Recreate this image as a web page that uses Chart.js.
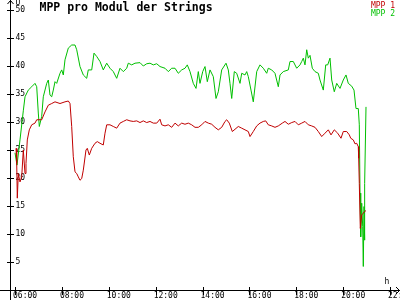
<!DOCTYPE html>
<html><head><meta charset="utf-8">
<script src="https://cdn.jsdelivr.net/npm/chart.js@4/dist/chart.umd.min.js"></script>
<style>html,body{margin:0;padding:0;background:#fff}#wrap{width:400px;height:300px}</style>
</head><body><div id="wrap"><canvas id="c" width="400" height="300"></canvas></div>
<script>
const chartTitle = 'MPP pro Modul der Strings';
const seriesNames = ['MPP 1', 'MPP 2'];
const seriesColors = ['#c00000', '#00c000'];
const yTickValues = [5,10,15,20,25,30,35,40,45,50];
const xTickHours = [6,8,10,12,14,16,18,20,22];
const yUnit = 'U';
const xUnit = 'h';

const mpp1Times = [6.043,6.073,6.098,6.141,6.213,6.286,6.354,6.427,6.469,6.525,
6.61,6.713,6.853,6.926,7.139,7.28,7.421,7.566,7.707,7.92,
8.133,8.274,8.347,8.419,8.487,8.56,8.633,8.701,8.773,8.846,
8.914,9.029,9.085,9.17,9.273,9.413,9.511,9.627,9.767,9.84,
9.913,10.053,10.194,10.339,10.48,10.621,10.766,10.907,11.047,11.193,
11.333,11.474,11.619,11.76,11.901,12.046,12.187,12.259,12.4,12.541,
12.686,12.827,12.967,13.113,13.253,13.394,13.539,13.68,13.821,13.966,
14.107,14.248,14.393,14.533,14.674,14.819,14.96,15.033,15.143,15.272,
15.387,15.527,15.673,15.813,15.954,16.027,16.167,16.313,16.453,16.594,
16.696,16.807,16.953,17.093,17.234,17.405,17.52,17.661,17.806,17.947,
18.088,18.233,18.373,18.514,18.659,18.8,18.941,19.086,19.227,19.368,
19.483,19.623,19.768,19.909,20.007,20.153,20.264,20.324,20.434,20.507,
20.579,20.647,20.664,20.69,20.733,20.793,20.848,20.976];
const mpp1Values = [25.3,22.6,16.4,20.8,19.3,20.2,25,20.8,22.6,26.8,
28.6,29.5,29.8,30.4,30.4,31.8,33,33.3,33.6,33.3,
33.6,33.75,33.3,29.2,23.8,21.1,20.8,20.2,19.6,19.9,
21.4,25,25.3,24.1,25.3,26.2,26.5,26.2,25.9,28,
29.5,29.5,29.2,28.9,29.8,30.1,30.4,30.2,30.1,30.2,
29.9,30.2,29.9,30.1,29.8,29.8,30.5,29.5,29.3,29.5,
29.05,29.8,29.3,29.8,29.6,29.8,29.5,29.05,29.05,29.5,
30.1,29.8,29.6,29.05,28.6,29.05,30.1,30.4,29.8,28.3,
28.7,29.2,28.9,28.6,28.3,27.4,28.3,29.3,29.8,30.1,
30.2,29.5,29.3,29.05,29.3,29.8,30.1,29.6,29.9,30.1,
29.5,29.8,30.1,29.5,29.3,29.05,28.3,27.4,28,28.6,
27.7,28.6,28,27.1,28.3,28.3,27.7,27.1,26.8,26.1,
26.2,25.6,23.5,19,11,13.4,13.7,14.2];

const mpp2Times = [6.00,6.085,6.213,6.354,6.427,6.567,6.713,6.853,6.926,6.994,
7.037,7.139,7.207,7.353,7.421,7.493,7.566,7.634,7.707,7.779,
7.92,7.993,8.061,8.133,8.274,8.419,8.56,8.633,8.773,8.914,
9.059,9.127,9.273,9.371,9.486,9.627,9.767,9.913,10.053,10.194,
10.339,10.48,10.621,10.766,10.834,10.979,11.12,11.333,11.474,11.619,
11.76,11.901,12.046,12.187,12.4,12.541,12.686,12.827,12.967,13.113,
13.253,13.351,13.467,13.607,13.723,13.821,13.893,14.009,14.107,14.205,
14.32,14.461,14.576,14.674,14.819,15.003,15.101,15.173,15.246,15.357,
15.459,15.6,15.673,15.813,15.886,15.954,16.069,16.167,16.313,16.453,
16.594,16.739,16.807,16.953,17.093,17.234,17.307,17.447,17.661,17.733,
17.874,18.019,18.16,18.233,18.301,18.373,18.446,18.514,18.587,18.685,
18.8,18.941,19.013,19.154,19.257,19.342,19.44,19.513,19.623,19.726,
19.867,20.007,20.123,20.221,20.366,20.464,20.549,20.647,20.69,20.72,
20.75,20.793,20.835,20.861,20.891,20.903,20.933,20.976];
const mpp2Values = [24.5,22.3,26.8,32,34.5,35.7,36.3,36.9,36.3,31.6,
29.2,31,34.5,36.9,37.5,34.8,34.5,35.7,37.2,36.9,
38.7,39.3,38.4,41.1,43.2,43.75,43.75,42.9,39.9,38.4,
37.8,39.3,39.3,42.3,41.7,40.8,39.3,40.5,39.6,39,
37.8,39.6,39,39.6,40.5,40.2,40.5,40.6,40,40.4,
40.5,40.2,40.4,39.9,39.6,39,39.6,39.6,38.7,39.3,
39.6,40.2,39,36.9,36,39,36.9,39,39.9,37.2,
39.3,38.1,34.2,35.4,39.3,40.5,39.3,36.9,34.2,39,
38.7,36.9,38.7,38.4,39,38.1,35.7,33.6,39,40.2,
39.6,38.7,39.6,39.3,38.7,36.3,38.4,39,39.3,40.8,
40.8,39.6,40.2,40.8,41.4,40.2,42.9,41.4,41.9,39.6,
39,38.7,37.5,35.7,40.2,40.2,41.4,37.5,35.4,36.9,
36,37.5,38.4,36.9,36.4,35.7,32.4,32.4,29.5,17.3,
9.5,15.5,11.3,4.2,14.9,8.9,19,32.7];

const toPoints = (ts, vs) => ts.map((t, i) => ({x: t, y: vs[i]}));
const MONO = '"DejaVu Sans Mono", "Liberation Mono", monospace';

const decor = {
  id: 'decor',
  beforeDraw(chart) {
    const ctx = chart.ctx;
    ctx.save();
    ctx.fillStyle = '#ffffff';
    ctx.fillRect(0, 0, chart.width, chart.height);
    ctx.restore();
  },
  afterDraw(chart) {
    const ctx = chart.ctx;
    const xs = chart.scales.x, ys = chart.scales.y;
    const ax = Math.round(chart.chartArea.left) + 0.5;
    const ay = Math.round(chart.chartArea.bottom) + 0.5;
    ctx.save();
    ctx.strokeStyle = '#000';
    ctx.lineWidth = 1;
    ctx.beginPath();
    ctx.moveTo(ax, 0); ctx.lineTo(ax, chart.height);
    ctx.moveTo(0, ay); ctx.lineTo(chart.width, ay);
    // arrows
    ctx.moveTo(ax - 3, 4); ctx.lineTo(ax, 0.5); ctx.lineTo(ax + 3, 4);
    ctx.moveTo(chart.width - 4, ay - 3.5); ctx.lineTo(chart.width - 0.5, ay); ctx.lineTo(chart.width - 4, ay + 3.5);
    // ticks crossing the axes
    ys.ticks.forEach(t => {
      const p = Math.round(ys.getPixelForValue(t.value)) + 0.5;
      ctx.moveTo(ax - 3.5, p); ctx.lineTo(ax + 3.5, p);
    });
    xs.ticks.forEach(t => {
      const p = Math.round(xs.getPixelForValue(t.value)) + 0.5;
      ctx.moveTo(p, ay - 3.5); ctx.lineTo(p, ay + 4.5);
    });
    ctx.stroke();
    // title
    ctx.fillStyle = '#000';
    ctx.textBaseline = 'alphabetic';
    ctx.textAlign = 'left';
    ctx.font = 'bold 11.5px ' + MONO;
    ctx.fillText(chartTitle, 39.5, 11);
    // axis units
    ctx.font = '8px ' + MONO;
    ctx.fillText(yUnit, 15.5, 4.5);
    ctx.fillText(xUnit, 384.5, 283.5);
    // legend
    ctx.textAlign = 'right';
    seriesNames.forEach((n, i) => {
      ctx.fillStyle = seriesColors[i];
      ctx.fillText(n, 395, 7.5 + i * 8);
    });
    ctx.restore();
  }
};

new Chart(document.getElementById('c'), {
  type: 'line',
  data: {
    datasets: [
      {label: seriesNames[0], data: toPoints(mpp1Times, mpp1Values), borderColor: seriesColors[0], borderWidth: 1, pointRadius: 0, tension: 0, fill: false},
      {label: seriesNames[1], data: toPoints(mpp2Times, mpp2Values), borderColor: seriesColors[1], borderWidth: 1, pointRadius: 0, tension: 0, fill: false}
    ]
  },
  options: {
    responsive: false,
    animation: false,
    devicePixelRatio: 1,
    layout: {padding: {left: 0, right: 10, top: 10, bottom: 0}},
    plugins: {legend: {display: false}, title: {display: false}, tooltip: {enabled: false}},
    scales: {
      x: {
        type: 'linear',
        min: 6 - 5 / 23.4375,
        max: 22,
        afterBuildTicks: s => { s.ticks = xTickHours.map(v => ({value: v})); },
        afterFit: s => { s.height = 10; s.paddingLeft = 0; s.paddingRight = 0; },
        grid: {display: false, drawTicks: false},
        border: {display: true, color: '#000', width: 1},
        ticks: {
          align: 'start',
          labelOffset: -2,
          padding: 1.5,
          maxRotation: 0,
          autoSkip: false,
          color: '#000',
          font: {family: MONO, size: 8},
          callback: v => String(v).padStart(2, '0') + ':00'
        }
      },
      y: {
        type: 'linear',
        min: 0,
        max: 50,
        afterBuildTicks: s => { s.ticks = yTickValues.map(v => ({value: v})); },
        afterFit: s => { s.width = 10; s.paddingTop = 0; s.paddingBottom = 0; },
        grid: {display: false, drawTicks: false},
        border: {display: true, color: '#000', width: 1},
        ticks: {
          mirror: true,
          padding: 5.5,
          autoSkip: false,
          color: '#000',
          font: {family: MONO, size: 8}
        }
      }
    }
  },
  plugins: [decor]
});
</script>
</body></html>
